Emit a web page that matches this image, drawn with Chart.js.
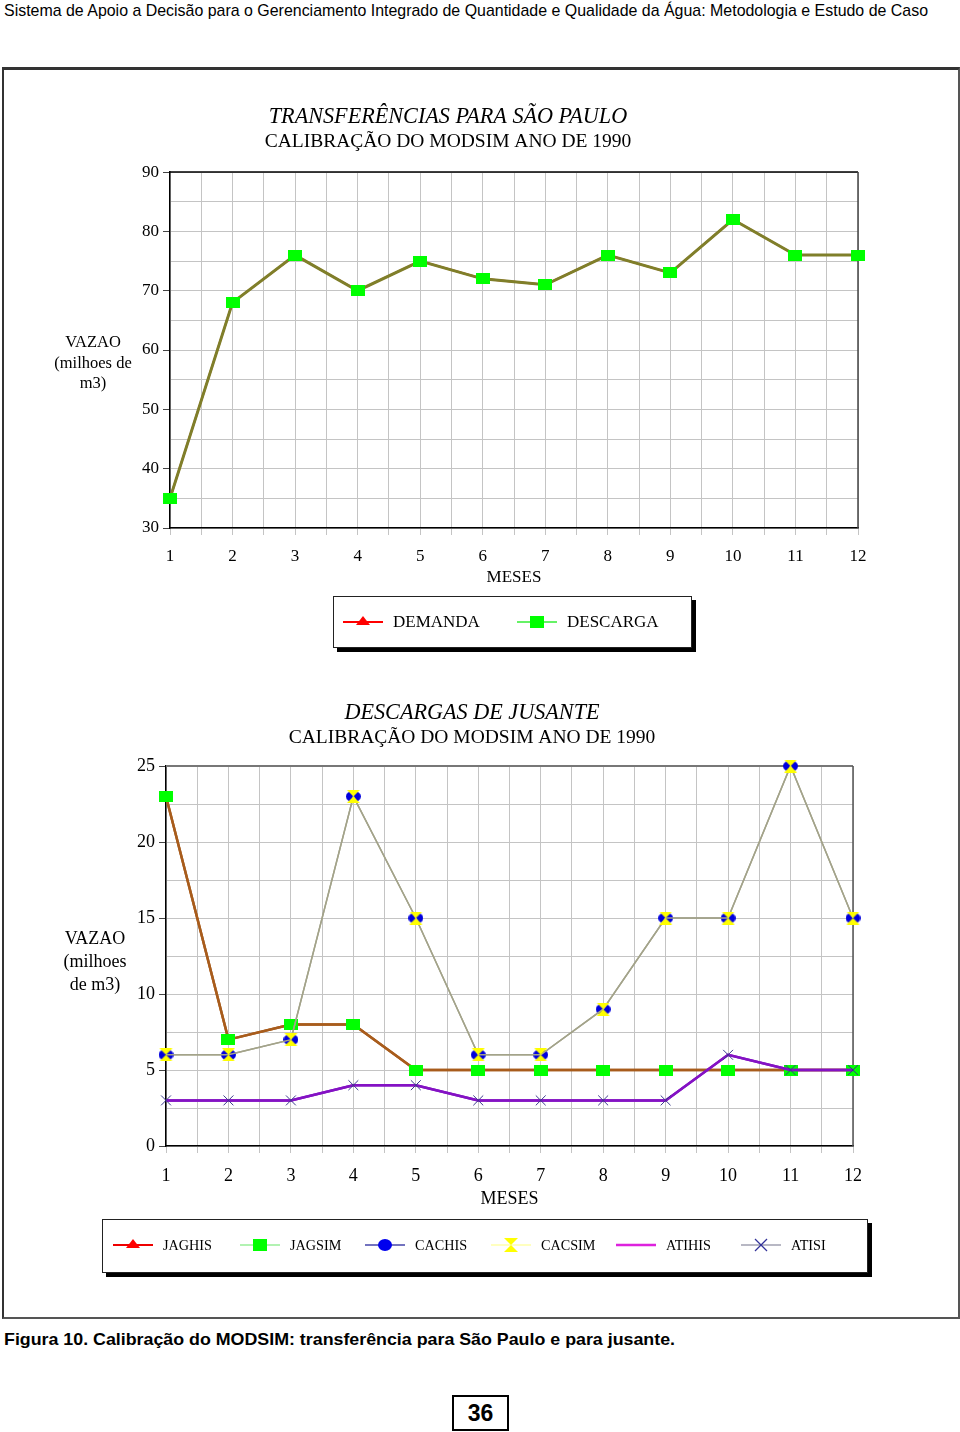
<!DOCTYPE html>
<html>
<head>
<meta charset="utf-8">
<script src="https://cdn.jsdelivr.net/npm/chart.js@4.4.1/dist/chart.umd.min.js"></script>
<style>
  html, body { margin: 0; padding: 0; background: #fff; }
  body { width: 960px; height: 1432px; position: relative; overflow: hidden; font-family: "Liberation Serif", "Times New Roman", serif; color: #000; }
  .abs { position: absolute; }
  #header { left: 4px; top: 1px; font-family: "Liberation Sans", Arial, sans-serif; font-size: 17px; white-space: nowrap; transform-origin: 0 0; }
  #frame { left: 2px; top: 67px; width: 954px; height: 1247px; border-top: 3px solid #333; border-left: 2px solid #333; border-right: 2px solid #555; border-bottom: 2px solid #555; }
  #caption { left: 4px; top: 1330px; font-family: "Liberation Sans", Arial, sans-serif; font-weight: bold; font-size: 17px; white-space: nowrap; transform-origin: 0 0; }
  #pagenum { left: 452px; top: 1395px; width: 53px; height: 32px; border: 2px solid #000; font-family: "Liberation Sans", Arial, sans-serif; font-weight: bold; font-size: 23px; text-align: center; line-height: 32px; }
  .ytitle { text-align: center; white-space: nowrap; }
  .legend { background: #fff; border: 1px solid #222; box-shadow: 4px 4px 0 #000; }
  .li { position: absolute; display: flex; align-items: center; white-space: nowrap; }
  .li svg { margin-right: 8px; }
  canvas { position: absolute; }
</style>
</head>
<body>
<div id="header" class="abs">Sistema de Apoio a Decisão para o Gerenciamento Integrado de Quantidade e Qualidade da Água: Metodologia e Estudo de Caso</div>
<div id="frame" class="abs"></div>

<div id="wrap1" class="abs" style="left:0;top:88px;width:896px;height:512px;"><canvas id="c1"></canvas></div>
<div class="abs ytitle" style="left:43px;top:332px;width:100px;font-size:16.5px;line-height:20.5px;">VAZAO<br>(milhoes de<br>m3)</div>

<div class="abs legend" style="left:333px;top:596px;width:357px;height:50px;">
  <div class="li" style="left:9px;top:15px;font-size:17px;">
    <svg width="42" height="20"><line x1="0" y1="10" x2="40" y2="10" stroke="#ff0000" stroke-width="2"/><polygon points="20,4 27,13 13,13" fill="#ff0000"/></svg>DEMANDA</div>
  <div class="li" style="left:183px;top:15px;font-size:17px;">
    <svg width="42" height="20"><line x1="0" y1="10" x2="40" y2="10" stroke="#33ee33" stroke-width="1.5"/><rect x="13" y="4" width="14" height="12" fill="#00ff00"/></svg>DESCARGA</div>
</div>

<div id="wrap2" class="abs" style="left:0;top:684px;width:944px;height:540px;"><canvas id="c2"></canvas></div>
<div class="abs ytitle" style="left:45px;top:927px;width:100px;font-size:18px;line-height:23px;">VAZAO<br>(milhoes<br>de m3)</div>

<div class="abs legend" style="left:102px;top:1219px;width:764px;height:52px;">
  <div class="li" style="left:10px;top:15px;font-size:14.2px;">
    <svg width="42" height="20"><line x1="0" y1="10" x2="40" y2="10" stroke="#ee0000" stroke-width="2"/><polygon points="20,4 27,13 13,13" fill="#ff0000"/></svg>JAGHIS</div>
  <div class="li" style="left:137px;top:15px;font-size:14.2px;">
    <svg width="42" height="20"><line x1="0" y1="10" x2="40" y2="10" stroke="#99ee99" stroke-width="1.5"/><rect x="13" y="4" width="14" height="12" fill="#00ff00"/></svg>JAGSIM</div>
  <div class="li" style="left:262px;top:15px;font-size:14.2px;">
    <svg width="42" height="20"><line x1="0" y1="10" x2="40" y2="10" stroke="#4444aa" stroke-width="1.5"/><ellipse cx="20" cy="10" rx="7" ry="6" fill="#0000ee"/></svg>CACHIS</div>
  <div class="li" style="left:388px;top:15px;font-size:14.2px;">
    <svg width="42" height="20"><line x1="0" y1="10" x2="40" y2="10" stroke="#ffffaa" stroke-width="1.5"/><polygon points="13,3 27,3 20,10" fill="#ffff00"/><polygon points="13,17 27,17 20,10" fill="#ffff00"/></svg>CACSIM</div>
  <div class="li" style="left:513px;top:15px;font-size:14.2px;">
    <svg width="42" height="20"><line x1="0" y1="10" x2="40" y2="10" stroke="#dd22dd" stroke-width="2.5"/></svg>ATIHIS</div>
  <div class="li" style="left:638px;top:15px;font-size:14.2px;">
    <svg width="42" height="20"><line x1="0" y1="10" x2="40" y2="10" stroke="#a0a0b0" stroke-width="1.5"/><line x1="14" y1="4" x2="26" y2="16" stroke="#333399" stroke-width="1.2"/><line x1="26" y1="4" x2="14" y2="16" stroke="#333399" stroke-width="1.2"/></svg>ATISI</div>
</div>

<div id="caption" class="abs">Figura 10. Calibração do MODSIM: transferência para São Paulo e para jusante.</div>
<div id="pagenum" class="abs">36</div>

<script>
// ---------- DATA ----------
const months = [1, 2, 3, 4, 5, 6, 7, 8, 9, 10, 11, 12];

// Chart 1: TRANSFERÊNCIAS PARA SÃO PAULO
const demanda  = [35, 68, 76, 70, 75, 72, 71, 76, 73, 82, 76, 76];
const descarga = [35, 68, 76, 70, 75, 72, 71, 76, 73, 82, 76, 76];
const yTicks1 = { min: 30, max: 90, step: 5, labelEvery: 10 };

// Chart 2: DESCARGAS DE JUSANTE
const jaghis = [23, 7, 8, 8, 5, 5, 5, 5, 5, 5, 5, 5];
const jagsim = [23, 7, 8, 8, 5, 5, 5, 5, 5, 5, 5, 5];
const cachis = [6, 6, 7, 23, 15, 6, 6, 9, 15, 15, 25, 15];
const cacsim = [6, 6, 7, 23, 15, 6, 6, 9, 15, 15, 25, 15];
const atihis = [3, 3, 3, 4, 4, 3, 3, 3, 3, 6, 5, 5];
const atisi  = [3, 3, 3, 4, 4, 3, 3, 3, 3, 6, 5, 5];
const yTicks2 = { min: 0, max: 25, step: 2.5, labelEvery: 5 };

// ---------- helpers ----------
const pts = arr => arr.map((v, i) => ({ x: months[i], y: v }));

function mkCanvas(w, h, draw) {
  const c = document.createElement('canvas');
  c.width = w; c.height = h;
  draw(c.getContext('2d'), w, h);
  return c;
}
const greenRect = mkCanvas(14, 11, (g, w, h) => { g.fillStyle = '#00ff00'; g.fillRect(0, 0, w, h); });
const redTri = mkCanvas(12, 10, (g, w, h) => { g.fillStyle = '#ff0000'; g.beginPath(); g.moveTo(w/2, 0); g.lineTo(w, h); g.lineTo(0, h); g.closePath(); g.fill(); });
const blueDot = mkCanvas(15, 11, (g, w, h) => { g.fillStyle = '#0000dd'; g.beginPath(); g.ellipse(w/2, h/2, w/2, h/2, 0, 0, Math.PI*2); g.fill(); });
const hourglass = mkCanvas(15, 13, (g, w, h) => {
  g.fillStyle = '#ffff00';
  g.beginPath(); g.moveTo(1, 0); g.lineTo(w-1, 0); g.lineTo(w/2, h/2); g.closePath(); g.fill();
  g.beginPath(); g.moveTo(1, h); g.lineTo(w-1, h); g.lineTo(w/2, h/2); g.closePath(); g.fill();
});

const framePlugin = {
  id: 'frame',
  beforeDatasetsDraw(chart) {
    const a = chart.chartArea, c = chart.ctx, f = chart.options.plugins.frame || {};
    c.save();
    c.lineWidth = f.topWidth || 1.5; c.strokeStyle = f.topColor || '#000';
    c.beginPath(); c.moveTo(a.left, a.top); c.lineTo(a.right, a.top); c.stroke();
    c.lineWidth = f.rightWidth || 1.5; c.strokeStyle = f.rightColor || '#444';
    c.beginPath(); c.moveTo(a.right, a.top); c.lineTo(a.right, a.bottom); c.stroke();
    c.restore();
  }
};

function baseOptions(o) {
  return {
    responsive: false,
    animation: false,
    devicePixelRatio: 1,
    layout: { padding: { left: o.padLeft, right: o.padRight, top: 0, bottom: 0 } },
    plugins: {
      legend: { display: false },
      tooltip: { enabled: false },
      frame: o.frame,
      title: {
        display: true, text: o.title, color: '#000',
        font: { family: 'Liberation Serif', size: 22.2, style: 'italic', weight: 'normal', lineHeight: 1.2 },
        padding: { top: o.titlePadTop, bottom: 0 }
      },
      subtitle: {
        display: true, text: o.subtitle, color: '#000',
        font: { family: 'Liberation Serif', size: 19.5, weight: 'normal', lineHeight: 1.2 },
        padding: { top: 0, bottom: o.subPadBottom }
      }
    },
    scales: {
      x: {
        type: 'linear', min: 1, max: 12,
        afterFit: s => { s.height = o.xHeight; },
        ticks: {
          stepSize: 0.5, autoSkip: false, maxRotation: 0, padding: o.xTickPad,
          color: '#000', font: { family: 'Liberation Serif', size: o.tickFont },
          callback: v => Number.isInteger(v) ? String(v) : ''
        },
        grid: { color: '#c4c4c4', lineWidth: 1, tickLength: 7, tickColor: '#c4c4c4' },
        border: { color: '#000', width: 1.5 },
        title: {
          display: true, text: 'MESES', color: '#000',
          font: { family: 'Liberation Serif', size: o.tickFont, lineHeight: 1.2 },
          padding: { top: 0, bottom: o.xTitlePadBottom }
        }
      },
      y: {
        type: 'linear', min: o.yt.min, max: o.yt.max,
        afterFit: s => { s.width = o.yWidth; },
        ticks: {
          stepSize: o.yt.step, autoSkip: false, padding: 4, color: '#000',
          font: { family: 'Liberation Serif', size: o.tickFont },
          callback: v => (Math.abs(v % o.yt.labelEvery) < 1e-9) ? String(v) : ''
        },
        grid: {
          color: '#c4c4c4', lineWidth: 1, tickLength: 7,
          tickColor: ctx => (ctx.tick && Math.abs(ctx.tick.value % o.yt.labelEvery) < 1e-9) ? '#444' : 'rgba(0,0,0,0)'
        },
        border: { color: '#000', width: 1.5 }
      }
    }
  };
}

function setup(canvasId, w, h) {
  const c = document.getElementById(canvasId);
  c.width = w; c.height = h;
  c.style.width = w + 'px'; c.style.height = h + 'px';
  return c;
}

// ---------- Chart 1 ----------
new Chart(setup('c1', 896, 512), {
  type: 'line',
  data: {
    datasets: [
      { label: 'DESCARGA', data: pts(descarga), order: 1, borderColor: '#7f7f2a', borderWidth: 3,
        pointStyle: greenRect, pointRadius: 7, tension: 0, clip: false },
      { label: 'DEMANDA', data: pts(demanda), order: 2, borderColor: '#ff0000', borderWidth: 2,
        pointStyle: redTri, pointRadius: 5, tension: 0, clip: false }
    ]
  },
  options: baseOptions({
    title: 'TRANSFERÊNCIAS PARA SÃO PAULO',
    subtitle: 'CALIBRAÇÃO DO MODSIM ANO DE 1990',
    padLeft: 38, padRight: 38, titlePadTop: 16, subPadBottom: 18, xHeight: 72, yWidth: 132,
    xTickPad: 11, tickFont: 17, xTitlePadBottom: 12, yt: yTicks1,
    frame: { topColor: '#000', topWidth: 1.5, rightColor: '#444', rightWidth: 1.5 }
  }),
  plugins: [framePlugin]
});

// ---------- Chart 2 ----------
new Chart(setup('c2', 944, 540), {
  type: 'line',
  data: {
    datasets: [
      { label: 'ATISI', data: pts(atisi), order: 1, borderColor: '#8412c4', borderWidth: 2.5,
        pointStyle: 'cross', rotation: 45, pointRadius: 7, pointBorderColor: '#3a3a8c', pointBorderWidth: 1,
        tension: 0, clip: false },
      { label: 'ATIHIS', data: pts(atihis), order: 2, borderColor: '#8412c4', borderWidth: 2.5,
        pointRadius: 0, tension: 0, clip: false },
      { label: 'CACSIM', data: pts(cacsim), order: 3, borderColor: '#a3a38a', borderWidth: 1.5,
        pointStyle: hourglass, pointRadius: 6, tension: 0, clip: false },
      { label: 'CACHIS', data: pts(cachis), order: 4, borderColor: '#a3a38a', borderWidth: 1.5,
        pointStyle: blueDot, pointRadius: 6, tension: 0, clip: false },
      { label: 'JAGSIM', data: pts(jagsim), order: 5, borderColor: '#a85c1c', borderWidth: 2.5,
        pointStyle: greenRect, pointRadius: 7, tension: 0, clip: false },
      { label: 'JAGHIS', data: pts(jaghis), order: 6, borderColor: '#a85c1c', borderWidth: 2.5,
        pointStyle: redTri, pointRadius: 5, tension: 0, clip: false }
    ]
  },
  options: baseOptions({
    title: 'DESCARGAS DE JUSANTE',
    subtitle: 'CALIBRAÇÃO DO MODSIM ANO DE 1990',
    padLeft: 91, padRight: 91, titlePadTop: 16, subPadBottom: 16, xHeight: 78, yWidth: 75,
    xTickPad: 12, tickFont: 18, xTitlePadBottom: 14, yt: yTicks2,
    frame: { topColor: '#777', topWidth: 2, rightColor: '#555', rightWidth: 1.5 }
  }),
  plugins: [framePlugin]
});

// fit header/caption widths to the reference
function fitWidth(id, target) {
  const el = document.getElementById(id);
  const w = el.getBoundingClientRect().width;
  el.style.transform = 'scaleX(' + (target / w) + ')';
}
fitWidth('header', 924);
fitWidth('caption', 671);
</script>
</body>
</html>
